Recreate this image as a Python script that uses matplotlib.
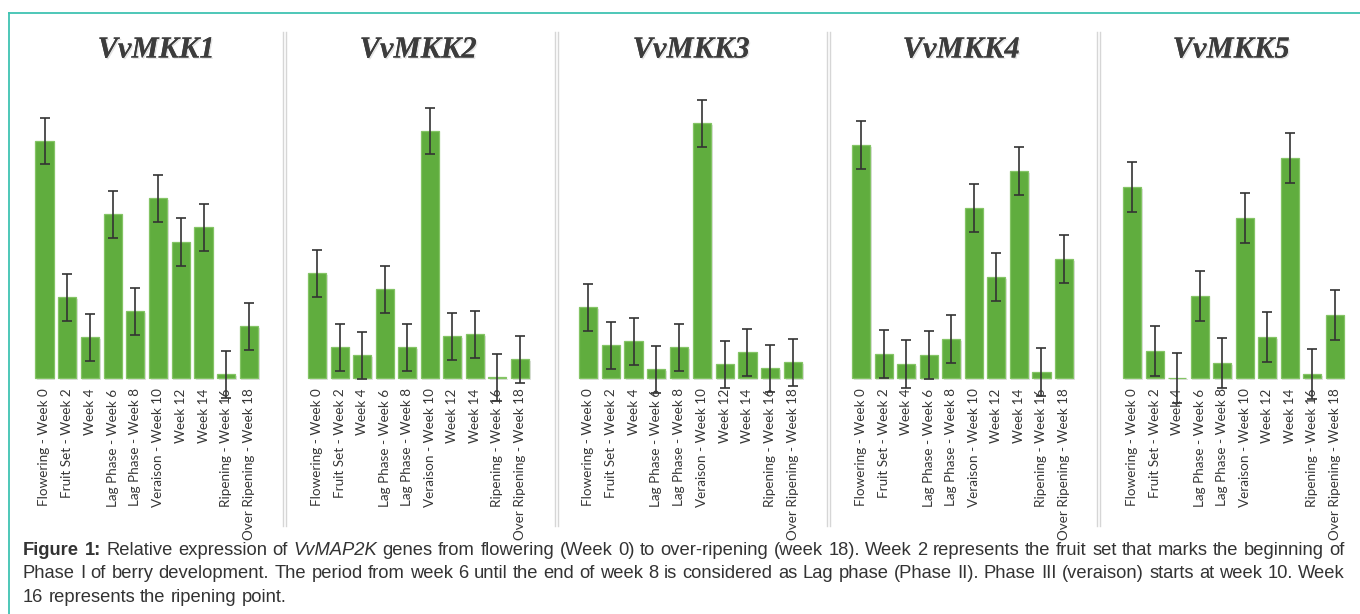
import matplotlib
matplotlib.use("Agg")
import matplotlib.pyplot as plt
import matplotlib.patheffects as pe
from matplotlib.lines import Line2D

# ---------------- data ----------------
stages = ["Flowering - Week 0", "Fruit Set - Week 2", "Week 4", "Lag Phase - Week 6",
          "Lag Phase - Week 8", "Veraison - Week 10", "Week 12", "Week 14",
          "Ripening - Week 16", "Over Ripening - Week 18"]
genes = ["VvMKK1", "VvMKK2", "VvMKK3", "VvMKK4", "VvMKK5"]

mkk1 = [2.37, 0.81, 0.41, 1.64, 0.67, 1.80, 1.36, 1.51, 0.04, 0.52]
mkk2 = [1.05, 0.31, 0.23, 0.89, 0.31, 2.47, 0.42, 0.44, 0.01, 0.19]
mkk3 = [0.71, 0.33, 0.37, 0.09, 0.31, 2.55, 0.14, 0.26, 0.10, 0.16]
mkk4 = [2.33, 0.24, 0.14, 0.23, 0.39, 1.70, 1.01, 2.07, 0.06, 1.19]
mkk5 = [1.91, 0.27, 0.005, 0.82, 0.15, 1.60, 0.41, 2.20, 0.04, 0.63]

mkk1_err = [0.235] * 10
mkk2_err = [0.235] * 10
mkk3_err = [0.235] * 10
mkk4_err = [0.24] * 10
mkk5_err = [0.25] * 10

values = [mkk1, mkk2, mkk3, mkk4, mkk5]
errors = [mkk1_err, mkk2_err, mkk3_err, mkk4_err, mkk5_err]

caption_lines = [
    [("Figure 1:", "bold", "normal"), ("Relative expression of", "normal", "normal"),
     ("VvMAP2K", "normal", "italic"),
     ("genes from flowering (Week 0) to over-ripening (week 18). Week 2 represents the fruit set that marks the beginning of", "normal", "normal")],
    [("Phase I of berry development. The period from week 6 until the end of week 8 is considered as Lag phase (Phase II). Phase III (veraison) starts at week 10. Week", "normal", "normal")],
    [("16 represents the ripening point.", "normal", "normal")],
]

# ---------------- layout (pixels) ----------------
W, H, DPI = 1360, 614, 100
fig = plt.figure(figsize=(W / DPI, H / DPI), dpi=DPI)
fig.patch.set_facecolor("white")

def fx(x):
    return x / W

def fy(y):
    return 1 - y / H

first_center = [44.5, 317.3, 588.0, 861.0, 1132.0]
step = [22.72, 22.52, 22.78, 22.56, 22.52]
title_x = [156, 418, 691, 961, 1231]
base_y, top_y = 378.0, 90.0
ymax = 2.88

bar_color = "#60ad3e"
edge_color = "#84c465"
label_color = "#363636"

for i in range(5):
    left = first_center[i] - 0.5 * step[i]
    width = 10 * step[i]
    ax = fig.add_axes([fx(left), fy(base_y), width / W, (base_y - top_y) / H])
    ax.set_xlim(-0.5, 9.5)
    ax.set_ylim(0, ymax)
    x = list(range(10))
    # soft shadow
    ax.bar([v + 0.07 for v in x], values[i], width=0.8, bottom=-0.015, color="#9a9a9a",
           alpha=0.3, linewidth=0, zorder=1)
    ax.bar(x, values[i], width=0.8, color=bar_color, edgecolor=edge_color,
           linewidth=0.9, zorder=2)
    ax.errorbar(x, values[i], yerr=errors[i], fmt="none", ecolor="#333333",
                elinewidth=1.2, capsize=3.5, capthick=1.2, zorder=3, clip_on=False)
    ax.set_xticks(x)
    ax.set_xticklabels(stages, rotation=90, fontsize=9.7, family="Lato", color=label_color)
    ax.tick_params(axis="x", length=0, pad=7.5)
    ax.set_yticks([])
    for s in ax.spines.values():
        s.set_visible(False)
    ax.patch.set_alpha(0)
    for art in ax.get_children():
        try:
            art.set_clip_on(False)
        except Exception:
            pass

    fig.text(fx(title_x[i]), fy(57.5), genes[i], family="Liberation Serif",
             fontweight="bold", fontstyle="italic", fontsize=22, color="#3c3c3c",
             ha="center", va="baseline",
             path_effects=[pe.withSimplePatchShadow(offset=(1.0, -1.0),
                                                    shadow_rgbFace="#b0b0b0", alpha=0.35),
                           pe.Normal()])

# separators
for xs in [283, 555, 827, 1097]:
    for dx in (0, 2.5):
        fig.add_artist(Line2D([fx(xs + dx)] * 2, [fy(32), fy(526)], color="#d6d6d6",
                              lw=1.0, transform=fig.transFigure))

# teal frame
fig.add_artist(Line2D([fx(8.5), fx(1360)], [fy(12.5), fy(12.5)], color="#3fc3b2",
                      lw=1.3, transform=fig.transFigure))
fig.add_artist(Line2D([fx(8.5), fx(8.5)], [fy(12.5), fy(614)], color="#3fc3b2",
                      lw=1.3, transform=fig.transFigure))

# caption (justified)
renderer = fig.canvas.get_renderer()
cap_size = 13.2
cap_color = "#333333"

def measure(txt, weight, style):
    t = fig.text(0, 0, txt, fontsize=cap_size, family="Liberation Sans",
                 fontweight=weight, fontstyle=style)
    w = t.get_window_extent(renderer).width
    t.remove()
    return w

space_w = measure("x x", "normal", "normal") - measure("xx", "normal", "normal")

def place_line(runs, x0, ybase, x1=None):
    words = []
    for txt, wgt, sty in runs:
        for wd in txt.split(" "):
            if wd:
                words.append((wd, wgt, sty))
    widths = [measure(w, g, s) for w, g, s in words]
    if x1 is not None and len(words) > 1:
        gap = (x1 - x0 - sum(widths)) / (len(words) - 1)
    else:
        gap = space_w
    x = x0
    for (wd, g, s), wdt in zip(words, widths):
        fig.text(fx(x), fy(ybase), wd, fontsize=cap_size, family="Liberation Sans",
                 fontweight=g, fontstyle=s, color=cap_color, ha="left", va="baseline")
        x += wdt + gap

place_line(caption_lines[0], 23, 555, 1345)
place_line(caption_lines[1], 23, 578.5, 1345)
place_line(caption_lines[2], 23, 602)

fig.savefig("out.png", dpi=DPI, facecolor="white")
